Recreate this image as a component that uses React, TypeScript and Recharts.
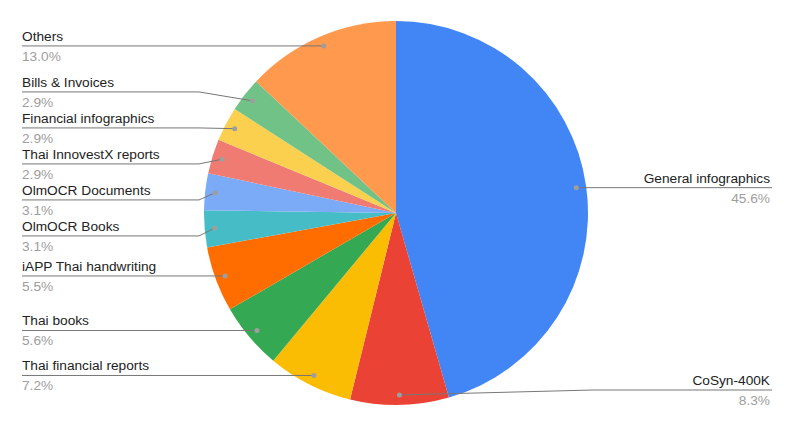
import React from 'react';
import { PieChart, Pie, Cell } from 'recharts';

const categories = [
  'General infographics',
  'CoSyn-400K',
  'Thai financial reports',
  'Thai books',
  'iAPP Thai handwriting',
  'OlmOCR Books',
  'OlmOCR Documents',
  'Thai InnovestX reports',
  'Financial infographics',
  'Bills & Invoices',
  'Others',
];
const shares = [45.6, 8.3, 7.2, 5.6, 5.5, 3.1, 3.1, 2.9, 2.9, 2.9, 13.0];
const sliceColors = [
  '#4285F4', '#EA4335', '#FBBC04', '#34A853', '#FF6D01', '#46BDC6',
  '#7BAAF7', '#F07B72', '#FCD04F', '#71C287', '#FF994D',
];

const data = categories.map((name, i) => ({ name, value: shares[i] }));

const W = 793;
const H = 427;
const CX = 396;
const CY = 213;
const R = 192;
const DOT_FRAC = 0.948;
const LABEL_GAP = 36;
const LABEL_TOP = 40;
const LABEL_BOTTOM = 388;
const FONT = "Arial, 'Liberation Sans', sans-serif";
const RAD = Math.PI / 180;

// spread label rows per side so they don't collide
function layoutLabelRows(): number[] {
  const total = shares.reduce((a, b) => a + b, 0);
  let acc = 0;
  const items = shares.map((v, i) => {
    const a = ((acc + v / 2) / total) * 2 * Math.PI;
    acc += v;
    return { i, right: Math.sin(a) >= 0, y: CY - R * DOT_FRAC * Math.cos(a) };
  });
  const out: number[] = new Array(shares.length).fill(0);
  [true, false].forEach((side) => {
    const list = items.filter((d) => d.right === side).sort((a, b) => a.y - b.y);
    const pos = list.map((d) => Math.min(LABEL_BOTTOM, Math.max(LABEL_TOP, d.y)));
    for (let it = 0; it < 300; it++) {
      for (let k = 0; k < pos.length - 1; k++) {
        const gap = pos[k + 1] - pos[k];
        if (gap < LABEL_GAP) {
          const s = (LABEL_GAP - gap) / 2;
          pos[k] -= s;
          pos[k + 1] += s;
        }
      }
      for (let k = 0; k < pos.length; k++) pos[k] = Math.min(LABEL_BOTTOM, Math.max(LABEL_TOP, pos[k]));
    }
    list.forEach((d, k) => (out[d.i] = pos[k] + 2));
  });
  return out;
}

const labelRows = layoutLabelRows();

const renderLabel = (props: any) => {
  const { cx, cy, midAngle, outerRadius, index, name, value } = props;
  const r = outerRadius * DOT_FRAC;
  const dx = cx + r * Math.cos(-midAngle * RAD);
  const dy = cy + r * Math.sin(-midAngle * RAD);
  const right = dx >= cx;
  let ly = labelRows[index];
  if (Math.abs(ly - 2 - dy) < 0.5) ly = dy; // no shift needed -> straight leader
  const edgeX = right ? 772 : 22;
  const kneeX = right ? cx + outerRadius + 5 : cx - outerRadius - 5;
  const textX = right ? 770 : 22;
  const anchor = right ? 'end' : 'start';
  return (
    <g key={`lbl-${index}`}>
      <polyline
        points={`${edgeX},${ly} ${kneeX},${ly} ${dx},${dy}`}
        fill="none"
        stroke="#777777"
        strokeWidth={1}
      />
      <circle cx={dx} cy={dy} r={2.5} fill="#9e9e9e" />
      <text x={textX} y={ly - 5} textAnchor={anchor} fontSize={13.7} fill="#222222" fontFamily={FONT}>
        {name}
      </text>
      <text x={textX} y={ly + 15} textAnchor={anchor} fontSize={13.7} fill="#9e9e9e" fontFamily={FONT}>
        {`${Number(value).toFixed(1)}%`}
      </text>
    </g>
  );
};

export default function App() {
  return (
    <div style={{ width: W, height: H, background: '#ffffff' }}>
      <style>{'body{margin:0}'}</style>
      <PieChart width={W} height={H} margin={{ top: 0, right: 0, bottom: 0, left: 0 }}>
        <Pie
          data={data}
          dataKey="value"
          nameKey="name"
          cx={CX}
          cy={CY}
          outerRadius={R}
          startAngle={90}
          endAngle={-270}
          stroke="none"
          labelLine={false}
          label={renderLabel}
          isAnimationActive={false}
        >
          {data.map((d, i) => (
            <Cell key={d.name} fill={sliceColors[i]} />
          ))}
        </Pie>
      </PieChart>
    </div>
  );
}
